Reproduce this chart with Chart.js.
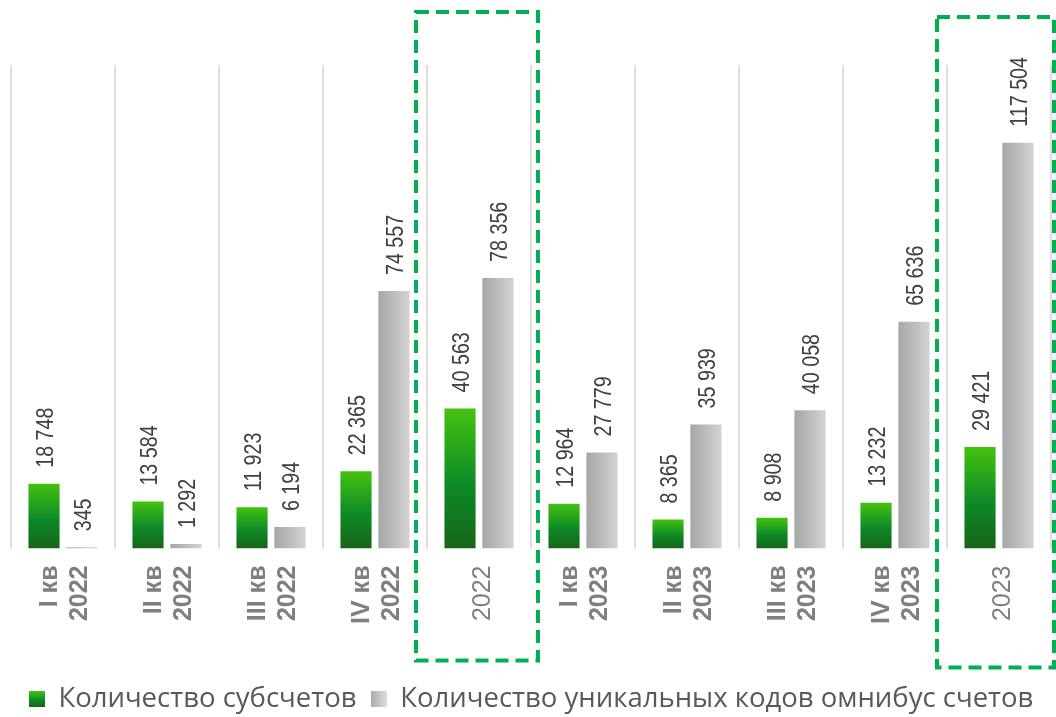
<!DOCTYPE html>
<html><head><meta charset="utf-8">
<script src="https://cdn.jsdelivr.net/npm/chart.js@4/dist/chart.umd.min.js"></script>
<style>html,body{margin:0;padding:0;background:#fff;overflow:hidden}</style>
</head><body>
<canvas id="c" width="1056" height="717"></canvas>
<script>
// ---- data ----
const categories = [["I кв","2022"],["II кв","2022"],["III кв","2022"],["IV кв","2022"],"2022",
                    ["I кв","2023"],["II кв","2023"],["III кв","2023"],["IV кв","2023"],"2023"];
const seriesNames = ["Количество субсчетов","Количество уникальных кодов омнибус счетов"];
const subAccounts = [18748,13584,11923,22365,40563,12964,8365,8908,13232,29421];
const omnibusCodes = [345,1292,6194,74557,78356,27779,35939,40058,65636,117504];
const annualCategories = [4, 9];
const yMax = 140000;

// ---- style ----
const CAT_PCT = 0.73, BAR_PCT = 0.82;
const fmt = v => String(v).replace(/\B(?=(\d{3})+(?!\d))/g, '\u00a0');
const isAnnual = i => annualCategories.includes(i);

function barGeom(chart, di, i) {
  const x = chart.scales.x;
  const cx = x.getPixelForValue(i);
  const catW = x.width / categories.length;
  const slot = catW * CAT_PCT / 2;
  const c = cx + (di === 0 ? -slot / 2 : slot / 2);
  const half = slot * BAR_PCT / 2;
  return [c - half, c + half];
}
function greenFill(ctx) {
  const chart = ctx.chart, y = chart.scales.y;
  if (ctx.type !== 'data' || !y) return '#1a9a1f';
  const top = y.getPixelForValue(ctx.raw), base = y.getPixelForValue(0);
  if (!isFinite(top) || !isFinite(base) || base - top < 1) return '#1a9a1f';
  const g = chart.ctx.createLinearGradient(0, top, 0, base);
  g.addColorStop(0, '#44c20f');
  g.addColorStop(0.55, '#0d8a28');
  g.addColorStop(1, '#176515');
  return g;
}
function grayFill(ctx) {
  const chart = ctx.chart, x = chart.scales.x;
  if (ctx.type !== 'data' || !x) return '#bfbfbf';
  const [l, r] = barGeom(chart, 1, ctx.dataIndex);
  if (!isFinite(l) || !isFinite(r) || r - l < 1) return '#bfbfbf';
  const g = chart.ctx.createLinearGradient(l, 0, r, 0);
  g.addColorStop(0, '#a6a6a6');
  g.addColorStop(1, '#d3d3d3');
  return g;
}
function swatch(kind) {
  const cv = document.createElement('canvas'); cv.width = 16; cv.height = 16;
  const c = cv.getContext('2d');
  const g = kind === 0 ? c.createLinearGradient(0, 0, 0, 16) : c.createLinearGradient(0, 0, 16, 0);
  if (kind === 0) { g.addColorStop(0, '#44c20f'); g.addColorStop(0.55, '#0d8a28'); g.addColorStop(1, '#176515'); }
  else { g.addColorStop(0, '#acacac'); g.addColorStop(1, '#dcdcdc'); }
  c.fillStyle = g; c.fillRect(0, 0, 16, 16);
  return cv;
}
const swatches = [swatch(0), swatch(1)];

const valueLabels = {
  id: 'valueLabels',
  afterDatasetsDraw(chart) {
    const ctx = chart.ctx;
    chart.data.datasets.forEach((ds, di) => {
      const meta = chart.getDatasetMeta(di);
      meta.data.forEach((el, i) => {
        ctx.save();
        ctx.translate(el.x, el.y - 16);
        ctx.rotate(-Math.PI / 2);
        ctx.scale(0.82, 1);
        ctx.font = '24px "Liberation Sans", Arial, sans-serif';
        ctx.fillStyle = '#404040';
        ctx.textAlign = 'left';
        ctx.textBaseline = 'alphabetic';
        ctx.fillText(fmt(ds.data[i]), 0, 8.6);
        ctx.restore();
      });
    });
  }
};

const highlightFrames = {
  id: 'highlightFrames',
  afterDraw(chart, args, opts) {
    const ctx = chart.ctx, x = chart.scales.x, a = chart.chartArea;
    const catW = x.width / categories.length;
    ctx.save();
    ctx.strokeStyle = opts.color; ctx.lineWidth = opts.width;
    ctx.setLineDash(opts.dash);
    opts.frames.forEach(f => {
      const cx = x.getPixelForValue(f.index);
      const l = cx - catW / 2 - f.dl, r = cx + catW / 2 + f.dr;
      const t = a.top - f.dt, b = a.bottom + f.db;
      ctx.strokeRect(l, t, r - l, b - t);
    });
    ctx.restore();
  }
};

new Chart(document.getElementById('c'), {
  type: 'bar',
  data: {
    labels: categories,
    datasets: [
      { label: seriesNames[0], data: subAccounts, backgroundColor: greenFill,
        categoryPercentage: CAT_PCT, barPercentage: BAR_PCT },
      { label: seriesNames[1], data: omnibusCodes, backgroundColor: grayFill,
        categoryPercentage: CAT_PCT, barPercentage: BAR_PCT }
    ]
  },
  options: {
    responsive: false,
    animation: false,
    layout: { padding: { left: 11, right: 5, top: 65, bottom: -6 } },
    scales: {
      x: {
        grid: { offset: true, color: '#dedede', lineWidth: 2, drawTicks: false },
        border: { display: false },
        ticks: {
          autoSkip: false, minRotation: 90, maxRotation: 90, padding: 17, color: '#7f7f7f',
          labelOffset: -13,
          callback: (v, i) => isAnnual(i) ? ['', categories[i]] : categories[i],
          font: c => isAnnual(c.index)
            ? { family: '"Liberation Sans Narrow", "Liberation Sans", Arial, sans-serif', size: 25, weight: 'normal', lineHeight: 0.68 }
            : { family: '"Liberation Sans Narrow", "Liberation Sans", Arial, sans-serif', size: 25, weight: 'bold', lineHeight: 1.2 }
        },
        afterFit: s => { s.height = 123; }
      },
      y: { display: false, min: 0, max: yMax }
    },
    plugins: {
      legend: {
        position: 'bottom',
        labels: {
          usePointStyle: true, boxWidth: 16, boxHeight: 16, padding: 14,
          color: '#595959', font: { family: '"Open Sans", sans-serif', size: 27.5 },
          generateLabels: chart => chart.data.datasets.map((d, i) => ({
            text: d.label, pointStyle: swatches[i], datasetIndex: i, hidden: false,
            fillStyle: 'transparent', strokeStyle: 'transparent', lineWidth: 0, fontColor: '#595959'
          }))
        }
      },
      tooltip: { enabled: false },
      highlightFrames: {
        color: '#00b050', width: 4, dash: [13, 7],
        frames: [ { index: 4, dl: 11, dr: 7, dt: 53, db: 112 },
                  { index: 9, dl: 10, dr: 3, dt: 48, db: 119 } ]
      }
    }
  },
  plugins: [valueLabels, highlightFrames]
});
</script>
</body></html>
